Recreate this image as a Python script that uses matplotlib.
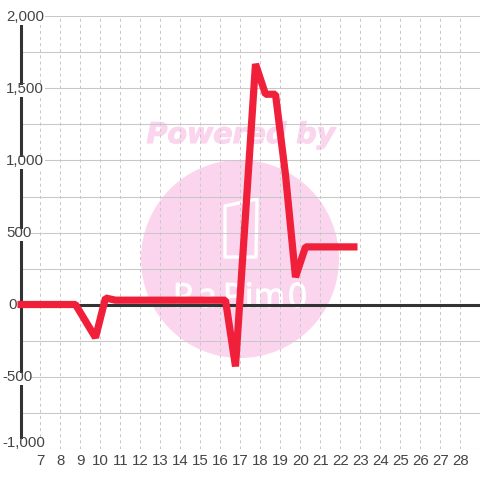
#!/usr/bin/env python3
import matplotlib
matplotlib.use("Agg")
import matplotlib.pyplot as plt
import matplotlib.patheffects as pe
from matplotlib.patches import Circle, Polygon, Rectangle
from matplotlib.transforms import Affine2D

plt.rcParams["font.family"] = ["Liberation Sans", "DejaVu Sans"]
plt.rcParams["lines.scale_dashes"] = False

# data
SAMPLE_X = [5.85, 8.75, 9.75, 10.25, 10.75, 16.25, 16.75, 17.75, 18.25, 18.75, 19.25, 19.75, 20.25, 22.85]
SAMPLE_Y = [0, 0, -230, 45, 30, 30, -430, 1670, 1460, 1460, 900, 190, 400, 400]
X_TICKS = list(range(7, 29))
Y_TICKS = [2000, 1500, 1000, 500, 0, -500, -1000]
Y_LABELS = ["2,000", "1,500", "1,000", "500", "0", "-500", "-1,000"]
Y_MINOR = [1750, 1250, 750, 250, -250, -750]

# label placing: left edge px, vertical shift px, mask right edge px
LABEL_LEFT = [6, 6, 6, 6, 8, 2, 2]
LABEL_SHIFT = [0, 0, 0, 0, 0, 0, -6]
MASK_RIGHT = [45, 45, 45, 31, 17, 31, 45]

LOGO_LETTERS = ["P", "a", "P", "i", "m", "0"]
LOGO_LEFT = [173, 198, 223, 245, 254, 288]

TEXT_COL = "#444444"
AXIS_COL = "#333333"
GRID_COL = "#c8c8c8"
RED = "#f0203a"
PINK = "#fbd5ee"

fig = plt.figure(figsize=(4.8, 4.8), dpi=100, facecolor="white")
ax = fig.add_axes([20.5 / 480, (480 - 448.5) / 480, 459.5 / 480, 432 / 480])
ax.set_xlim(6, 28.975)
ax.set_ylim(-1000, 2000)
ax.set_axisbelow(True)

# image pixel coordinates (y down), for the watermark and label masks
px = Affine2D().scale(1, -1).translate(0, 480)

# watermark sits under the grid
ax.add_patch(Circle((240, 259), 99, transform=px, facecolor=PINK, edgecolor="none", zorder=0.1))
ax.text(241, 135, "Powered by", transform=px, ha="center", va="center", fontsize=20.5,
        family="DejaVu Sans", fontweight="bold", fontstyle="italic", color=PINK, zorder=0.2,
        path_effects=[pe.withStroke(linewidth=0.8, foreground=PINK)])
ax.add_patch(Polygon([(225, 206), (257, 199), (256, 257), (225, 257)], transform=px, closed=True,
                     facecolor="none", edgecolor="white", linewidth=2.4, joinstyle="round", zorder=0.2))
for letter, left in zip(LOGO_LETTERS, LOGO_LEFT):
    ax.text(left, 307, letter, transform=px, ha="left", va="baseline", fontsize=24,
            family="Open Sans", color="white", zorder=0.2,
            path_effects=[pe.withStroke(linewidth=0.8, foreground="white")])

ax.set_yticks(Y_TICKS)
ax.set_yticks(Y_MINOR, minor=True)
ax.set_xticks(X_TICKS)
ax.set_yticklabels([])
ax.tick_params(axis="both", which="both", length=0)
ax.tick_params(axis="x", labelsize=10.8, labelcolor=TEXT_COL, pad=4)
ax.grid(True, axis="y", which="both", color=GRID_COL, linewidth=0.75)
ax.grid(True, axis="x", which="major", color=GRID_COL, linewidth=0.72, linestyle=(0, (2.2, 2.2)))

for side in ["top", "right", "bottom"]:
    ax.spines[side].set_visible(False)
ax.spines["left"].set_color(AXIS_COL)
ax.spines["left"].set_linewidth(2.2)
ax.spines["left"].set_zorder(3)
ax.axhline(0, color=AXIS_COL, linewidth=2.2, zorder=3)

# y labels sit on white boxes that cut the axis line
for value, label, left, shift, right in zip(Y_TICKS, Y_LABELS, LABEL_LEFT, LABEL_SHIFT, MASK_RIGHT):
    tick_px = 448.5 - (value + 1000) * 432 / 3000
    ax.add_patch(Rectangle((0, tick_px - 4 + shift), right, 12, transform=px, facecolor="white",
                           edgecolor="none", clip_on=False, zorder=5))
    ax.text(left, tick_px + 0.5 + shift, label, transform=px, ha="left", va="center", fontsize=10.8,
            color=TEXT_COL, clip_on=False, zorder=6)

ax.plot(SAMPLE_X, SAMPLE_Y, color=RED, linewidth=5.2, solid_joinstyle="bevel",
        solid_capstyle="butt", clip_on=False, zorder=7)

fig.savefig("out.png", dpi=100)
